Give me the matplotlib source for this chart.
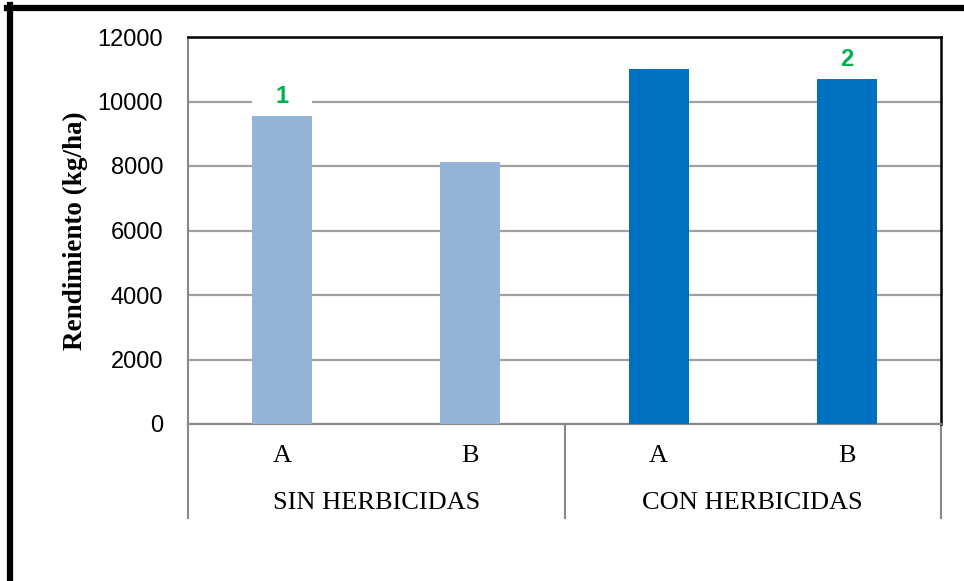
import matplotlib.pyplot as plt
import matplotlib.transforms as transforms
from matplotlib.lines import Line2D

groups = ["SIN HERBICIDAS", "CON HERBICIDAS"]
varieties = ["A", "B", "A", "B"]
rendimiento = [9550, 8130, 11010, 10700]
bar_colors = ["#95B3D7", "#95B3D7", "#0070C0", "#0070C0"]
marks = {0: "1", 3: "2"}

fig = plt.figure(figsize=(9.64, 5.81), dpi=100)
ax = fig.add_axes([188 / 964, 1 - 424 / 581, (941 - 188) / 964, (424 - 37) / 581])

x = [i + 0.5 for i in range(len(rendimiento))]
ax.bar(x, rendimiento, width=0.32, color=bar_colors, zorder=3)

ax.set_xlim(0, 4)
ax.set_ylim(0, 12000)
ax.set_yticks(range(0, 12001, 2000))
ax.set_xticks([])
ax.tick_params(axis="y", length=0, pad=18, labelsize=17)
for lab in ax.get_yticklabels():
    lab.set_fontfamily("Liberation Sans")
ax.yaxis.grid(True, color="#A0A0A0", linewidth=1.6, zorder=1)
ax.set_axisbelow(True)

ax.spines["left"].set_color("#888888")
ax.spines["bottom"].set_color("#888888")
ax.spines["left"].set_linewidth(1.5)
ax.spines["bottom"].set_linewidth(1.5)
ax.spines["top"].set_color("black")
ax.spines["right"].set_color("black")
ax.spines["top"].set_linewidth(1.8)
ax.spines["right"].set_linewidth(1.8)

ax.set_ylabel("Rendimiento (kg/ha)", family="Liberation Serif", fontweight="bold",
              fontsize=19.5, labelpad=7)

# significance marks
for i, txt in marks.items():
    ax.annotate(txt, (x[i], rendimiento[i]), xytext=(0, 6), textcoords="offset points",
                ha="center", va="bottom", color="#00B050", fontsize=17, fontweight="bold",
                family="Liberation Sans", zorder=2.5,
                bbox=dict(boxstyle="square,pad=1.0", facecolor="white", edgecolor="none"))

# category axis labels (two levels)
trans = transforms.blended_transform_factory(ax.transData, ax.transAxes)
for xi, v in zip(x, varieties):
    ax.text(xi, -0.083, v, transform=trans, ha="center", va="center",
            family="Liberation Serif", fontsize=19)
for gi, g in enumerate(groups):
    ax.text(gi * 2 + 1, -0.204, g, transform=trans, ha="center", va="center",
            family="Liberation Serif", fontsize=19)
for xs in [0, 2, 4]:
    ax.add_line(Line2D([xs, xs], [0, -0.243], transform=trans, color="#888888",
                       linewidth=1.5, clip_on=False))

# outer frame (left and top edges)
fig.add_artist(Line2D([10 / 964, 10 / 964], [0, 1 - 5 / 581], transform=fig.transFigure,
                      color="black", linewidth=4.5))
fig.add_artist(Line2D([7 / 964, 1], [1 - 7.5 / 581, 1 - 7.5 / 581], transform=fig.transFigure,
                      color="black", linewidth=4.5))

fig.savefig("out.png", dpi=100)
plt.close(fig)
